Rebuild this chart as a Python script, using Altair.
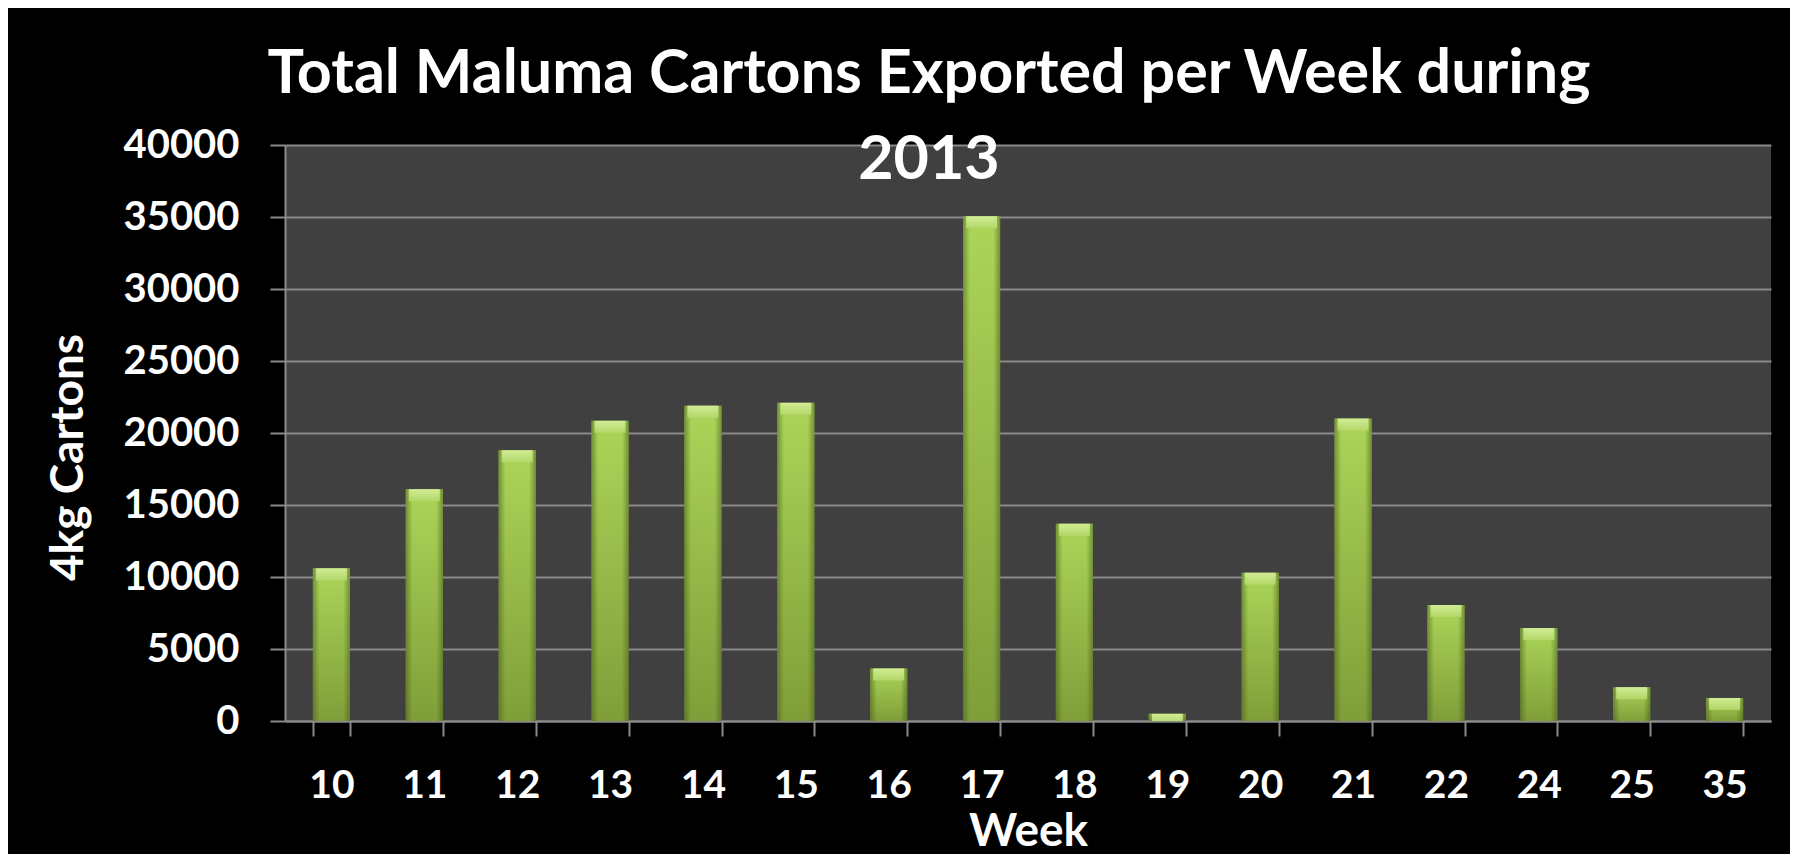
import altair as alt
import pandas as pd

weeks = ["10", "11", "12", "13", "14", "15", "16", "17", "18", "19", "20", "21", "22", "24", "25", "35"]
cartons = [10600, 16100, 18800, 20850, 21900, 22100, 3650, 35050, 13700, 500, 10300, 21000, 8050, 6450, 2350, 1600]

df = pd.DataFrame({"Week": weeks, "Cartons": cartons})

FONT = "Lato"
GRID = "#8a8a8a"

x_enc = alt.X(
    "Week:N",
    sort=weeks,
    scale=alt.Scale(paddingInner=0.6, paddingOuter=0.3),
    axis=alt.Axis(
        title="Week",
        titleFont=FONT, titleFontSize=46, titleFontWeight="bold", titleColor="white",
        titleY=110, titleBaseline="middle",
        labelFont=FONT, labelFontSize=39, labelFontWeight="bold", labelColor="white",
        labelAngle=0, labelPadding=30,
        tickBand="extent", tickSize=15, tickColor=GRID, tickWidth=2,
        domainColor=GRID, domainWidth=2, grid=False,
    ),
)
y_enc = alt.Y(
    "Cartons:Q",
    scale=alt.Scale(domain=[0, 40000]),
    axis=alt.Axis(
        title="4kg Cartons",
        titleFont=FONT, titleFontSize=46, titleFontWeight="bold", titleColor="white",
        titleAngle=-90, titleX=-203, titleY=312, titleAlign="center", titleBaseline="alphabetic",
        labelFont=FONT, labelFontSize=40, labelFontWeight="bold", labelColor="white",
        labelPadding=31, values=list(range(0, 40001, 5000)), format="d",
        tickSize=15, tickColor=GRID, tickWidth=2,
        domainColor=GRID, domainWidth=2,
        grid=True, gridColor=GRID, gridWidth=2,
    ),
)

base = alt.Chart(df)

body = base.mark_bar(
    color=alt.Gradient(
        gradient="linear", x1=0, x2=0, y1=0, y2=1,
        stops=[alt.GradientStop(offset=0, color="#acd559"),
               alt.GradientStop(offset=1, color="#7f9e39")],
    )
).encode(x=x_enc, y=y_enc)

sides = base.mark_bar(
    color=alt.Gradient(
        gradient="linear", x1=0, x2=1, y1=0, y2=0,
        stops=[alt.GradientStop(offset=0, color="rgba(70,90,25,0.55)"),
               alt.GradientStop(offset=0.18, color="rgba(70,90,25,0.0)"),
               alt.GradientStop(offset=0.82, color="rgba(70,90,25,0.0)"),
               alt.GradientStop(offset=1, color="rgba(70,90,25,0.55)")],
    )
).encode(x=x_enc, y=y_enc)

bevel_top = base.mark_tick(
    thickness=12, yOffset=6, size=31, clip=True,
    color=alt.Gradient(
        gradient="linear", x1=0, x2=0, y1=0, y2=1,
        stops=[alt.GradientStop(offset=0, color="#d6ef9c"),
               alt.GradientStop(offset=1, color="#b3d86a")],
    ),
    opacity=0.9,
).encode(x=x_enc, y=y_enc)

chart = alt.layer(body, sides, bevel_top).properties(
    width=1486,
    height=576,
    padding={"left": 277, "top": 137, "right": 19, "bottom": 133},
    autosize=alt.AutoSizeParams(type="none"),
    background="#000000",
    title=alt.TitleParams(
        text=["Total Maluma Cartons Exported per Week during", "2013"],
        font=FONT, fontSize=61, fontWeight="bold", color="white",
        anchor="middle", frame="group", baseline="alphabetic",
        lineHeight=86, offset=0, dx=-99, dy=115,
    ),
).configure_view(fill="#404040", stroke=None)

chart.save("out.html", embed_options={"renderer": "svg", "actions": False})
